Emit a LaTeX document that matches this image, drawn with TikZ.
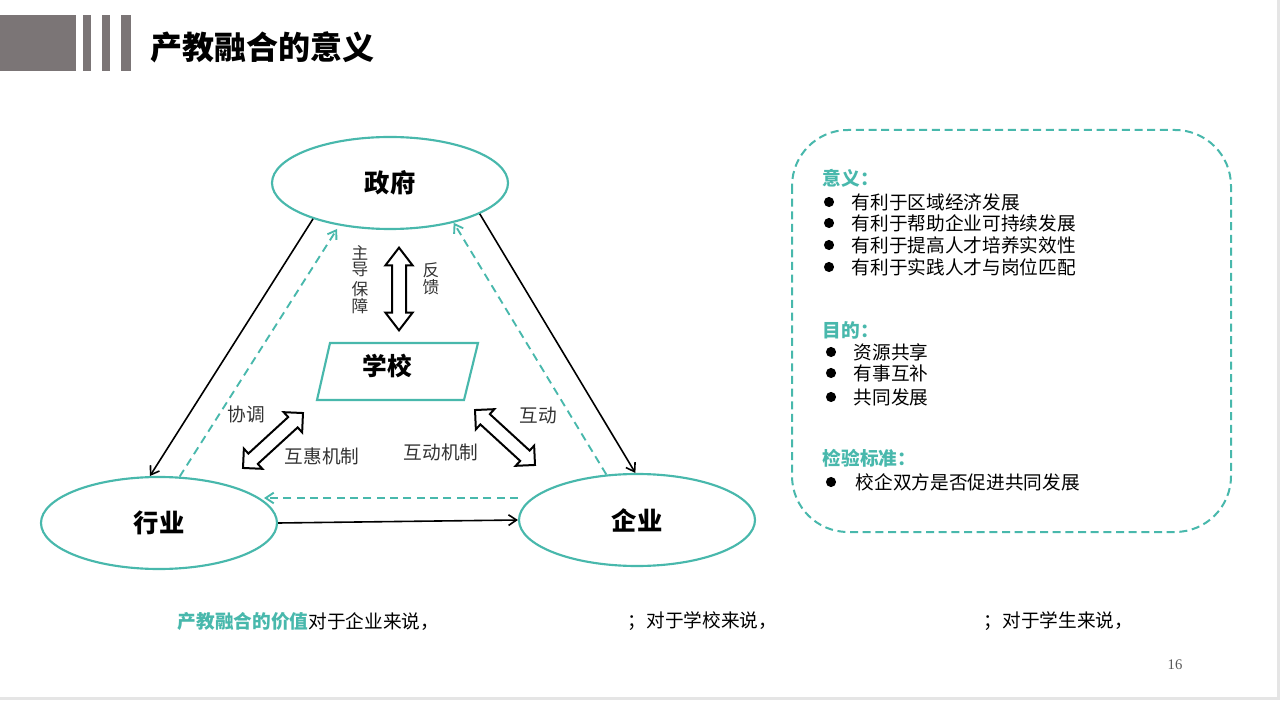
\documentclass[tikz,border=0pt]{standalone}
\usepackage{fontspec}
\setmainfont{Noto Sans CJK SC}
\newfontfamily\pagefont{Liberation Serif}
\usetikzlibrary{shapes.geometric,shapes.arrows,arrows.meta}
\definecolor{qteal}{RGB}{72,184,172}
\definecolor{bargray}{RGB}{123,117,118}

\begin{document}
\begin{tikzpicture}[x=0.75pt,y=0.75pt,
    party/.style={draw=qteal,line width=1.6pt,ellipse,minimum width=177pt,minimum height=69pt,font=\fontsize{19}{21}\selectfont\bfseries},
    link/.style={line width=1.2pt,-{Straight Barb[length=6pt,width=8pt]}},
    back/.style={qteal,line width=1.4pt,dash pattern=on 6pt off 4pt,-{Straight Barb[length=6pt,width=8pt]}},
    dbl/.style={draw,line width=1.5pt,fill=white,double arrow,inner sep=4.5pt,double arrow head extend=5pt},
    lbl/.style={text=black!80,font=\fontsize{14}{15}\selectfont},
    item/.style={anchor=west,font=\fontsize{14}{16}\selectfont},
    head/.style={anchor=west,text=qteal,font=\fontsize{14}{16}\selectfont\bfseries}]

    % screen edge
    \fill[black!10] (0,0) rectangle (1280,700);
    \fill[white] (0,3) rectangle (1277,700);
    \useasboundingbox (0,0) rectangle (1280,700);

    % header bars and title
    \fill[bargray] (0,629) rectangle (76,685);
    \foreach \a/\b in {83/91,102/110,121/131}
        \fill[bargray] (\a,629) rectangle (\b,685);
    \node[anchor=west,font=\fontsize{24}{26}\selectfont\bfseries] (title) at (146,653) {产教融合的意义};

    % the three parties
    \node[party] (zf) at (390,517) {政府};
    \node[party] (hy) at (159,177) {行业};
    \node[party] (qy) at (637,180) {企业};

    % school
    \node[font=\fontsize{18.5}{20}\selectfont\bfseries] (xx) at (387,334) {学校};
    \draw[qteal,line width=1.6pt] (330,357) -- (478,357) -- (464,300) -- (317,300) -- cycle;

    % solid and dashed links
    \draw[link] (zf.205) -- (hy.101);
    \draw[link] (zf.341) -- (qy.92);
    \draw[link] (hy.east) -- (qy.west);
    \draw[back,shorten >=3pt] (hy.66) -- (zf.220);
    \draw[back] (qy.124) -- (zf.328);
    \draw[back] ([yshift=16.5pt]qy.west) -- ([xshift=-10.5pt,yshift=18.75pt]hy.east);

    % hollow double arrows
    \node[dbl,minimum height=62pt,rotate=90,double arrow tip angle=75] (ud) at (399,411) {};
    \node[dbl,minimum height=61pt,rotate=42.5] (ld) at (273,259.5) {};
    \node[dbl,minimum height=61pt,rotate=-42.5] (rd) at (505,262.5) {};

    % labels
    \node[lbl,font=\fontsize{12.5}{11.5}\selectfont,align=center] (zd) at (360,420) {主\\导\\[4pt]保\\障};
    \node[lbl,font=\fontsize{12.5}{12.5}\selectfont,align=center] (fk) at (431,421) {反\\馈};
    \node[lbl] (xt) at (246,286) {协调};
    \node[lbl] (hh) at (322,244) {互惠机制};
    \node[lbl] (hjz) at (441,248) {互动机制};
    \node[lbl] (hd) at (538,284) {互动};

    % right box
    \draw[qteal,line width=1.5pt,dash pattern=on 6pt off 3.5pt,rounded corners=42pt] (792,570) rectangle (1231,168);

    \node[head] (yy) at (818,522) {意义：};
    \foreach \y/\t in {498/有利于区域经济发展,477/有利于帮助企业可持续发展,455/有利于提高人才培养实效性,433/有利于实践人才与岗位匹配} {
        \fill (829,\y) circle (3.8pt);
        \node[item] (yi\y) at (847,\y) {\t};
    }
    \node[head] (md) at (818,370) {目的：};
    \foreach \y/\t in {348/资源共享,327/有事互补,303/共同发展} {
        \fill (831,\y) circle (3.8pt);
        \node[item] (mi\y) at (849,\y) {\t};
    }
    \node[head] (bz) at (818,242) {检验标准：};
    \fill (831,218) circle (3.8pt);
    \node[item] (bi) at (851,218) {校企双方是否促进共同发展};

    % bottom line
    \node[item] (jz) at (173,79) {\textcolor{qteal}{\bfseries 产教融合的价值}对于企业来说，};
    \node[item] (xs) at (623,79) {；对于学校来说，};
    \node[item] (xsh) at (979,79) {；对于学生来说，};

    % page number
    \node[text=black!65,font=\pagefont\fontsize{11}{12}\selectfont] (ym) at (1175,35) {16};

\end{tikzpicture}
\end{document}
